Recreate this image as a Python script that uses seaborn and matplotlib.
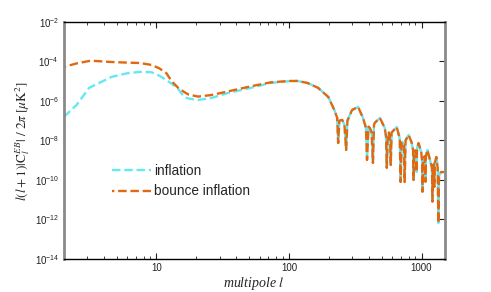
import numpy as np
import pandas as pd
import matplotlib
matplotlib.use('Agg')
import matplotlib.pyplot as plt
import seaborn as sns

# multipoles and log10 of l(l+1)|C_l^EB|/2pi
ell_low = [2, 2.5, 3.1, 3.3, 4.6, 6, 7.5, 9.2, 10.5, 11.9, 13, 14.6, 16.2, 17.5,
           20.6, 26, 34.6, 51.5, 72.6, 100]
infl_low = [-6.81, -6.2, -5.34, -5.25, -4.78, -4.6, -4.53, -4.55, -4.72, -4.95,
            -5.12, -5.4, -5.8, -5.88, -5.95, -5.85, -5.6, -5.34, -5.09, -5.0]
bounce_low = [-4.28, -4.1, -3.98, -3.97, -4.03, -4.06, -4.08, -4.18, -4.35, -4.6,
              -5.0, -5.34, -5.55, -5.68, -5.78, -5.7, -5.52, -5.26, -5.06, -4.99]

# high-l part, identical for both models
ell_high = [116, 138, 166, 198, 220, 231, 235, 240, 252, 262, 270, 276, 299, 332,
            362, 381, 388, 398, 408, 420, 430, 438, 444, 485, 528, 540, 547, 556,
            568, 580, 586, 595, 650, 685, 696, 708, 721, 738, 746, 758, 800, 842,
            864, 871, 880, 895, 912, 918, 925, 950, 995, 1010, 1017, 1030, 1055,
            1065, 1071, 1080, 1109, 1160, 1200, 1209, 1220, 1238, 1250, 1262,
            1294, 1325, 1340, 1355, 1400, 1486]
cl_high = [-4.99, -5.09, -5.34, -5.8, -6.46, -6.86, -8.13, -7.0, -6.96, -7.2, -8.48,
           -7.0, -6.46, -6.3, -6.86, -7.37, -8.99, -7.3, -7.37, -7.6, -9.14, -7.2,
           -7.11, -6.86, -7.37, -7.8, -9.39, -7.9, -7.6, -8.0, -9.24, -7.6, -7.32,
           -7.9, -10.1, -8.1, -8.08, -8.3, -10.1, -8.0, -7.72, -8.1, -8.5, -10.0,
           -8.6, -8.5, -8.7, -9.6, -8.4, -8.13, -8.6, -9.0, -10.6, -9.0, -8.8,
           -9.2, -10.1, -8.8, -8.48, -9.0, -9.4, -11.1, -9.3, -9.2, -10.35, -9.1,
           -8.84, -9.4, -12.18, -9.8, -9.6, -9.6]

ell = np.array(ell_low + ell_high)
infl = 10.0 ** np.array(infl_low + cl_high)
bounce = 10.0 ** np.array(bounce_low + cl_high)

df = pd.DataFrame({'l': ell, 'inflation': infl, 'bounce inflation': bounce})

sns.set_style('ticks')
plt.rcParams['font.family'] = ['Liberation Sans', 'DejaVu Sans']
plt.rcParams['mathtext.fontset'] = 'custom'
plt.rcParams['mathtext.rm'] = 'Liberation Sans'
plt.rcParams['mathtext.it'] = 'Liberation Sans:italic'

fig = plt.figure(figsize=(4.91, 2.92), dpi=100)
ax = fig.add_axes([0.130, 0.113, 0.776, 0.812])

dash = (3.6, 1.6)
sns.lineplot(data=df, x='l', y='inflation', ax=ax, color='#66e8f2', lw=1.7,
             linestyle=(0, dash), label='inflation', sort=False)
sns.lineplot(data=df, x='l', y='bounce inflation', ax=ax, color='#e2680f', lw=1.7,
             linestyle=(2.6, dash), label='bounce inflation', sort=False)

ax.set_xscale('log')
ax.set_yscale('log')
ax.set_xlim(2, 1500)
ax.set_ylim(1e-14, 1e-2)
ax.set_yticks([10.0 ** k for k in range(-14, -1, 2)])
ax.yaxis.set_minor_locator(matplotlib.ticker.NullLocator())
ax.set_xticks([10, 100, 1000])
ax.set_xticklabels(['10', '100', '1000'])
ax.tick_params(axis='x', which='both', direction='in', top=True, bottom=True,
               labelsize=7, colors='#222222')
ax.tick_params(axis='x', which='major', length=4)
ax.tick_params(axis='x', which='minor', length=2.5)
ax.tick_params(axis='y', which='major', direction='in', left=False, right=True,
               length=4, labelsize=7, colors='#222222')
ax.tick_params(axis='x', pad=3)

for side in ['left', 'right']:
    ax.spines[side].set_color('#8a8a8a')
    ax.spines[side].set_linewidth(2)
for side in ['top', 'bottom']:
    ax.spines[side].set_color('black')
    ax.spines[side].set_linewidth(1)

xl = ax.set_xlabel('multipole $l$', fontsize=10, family='Liberation Serif',
                   style='italic', labelpad=1)
xl.set_math_fontfamily('stix')
yl = ax.set_ylabel(r'$l(l+1)|\mathrm{C}_l^{EB}|\ /\ 2\pi\ [\mu\mathrm{K}^2]$',
                   fontsize=9.5, labelpad=2)
yl.set_math_fontfamily('stix')

ax.legend(loc='upper left', bbox_to_anchor=(0.112, 0.425), frameon=False,
          fontsize=9.8, handlelength=2.9, handletextpad=0.2, labelspacing=0.5,
          borderaxespad=0)

fig.savefig('out.png', dpi=100)
